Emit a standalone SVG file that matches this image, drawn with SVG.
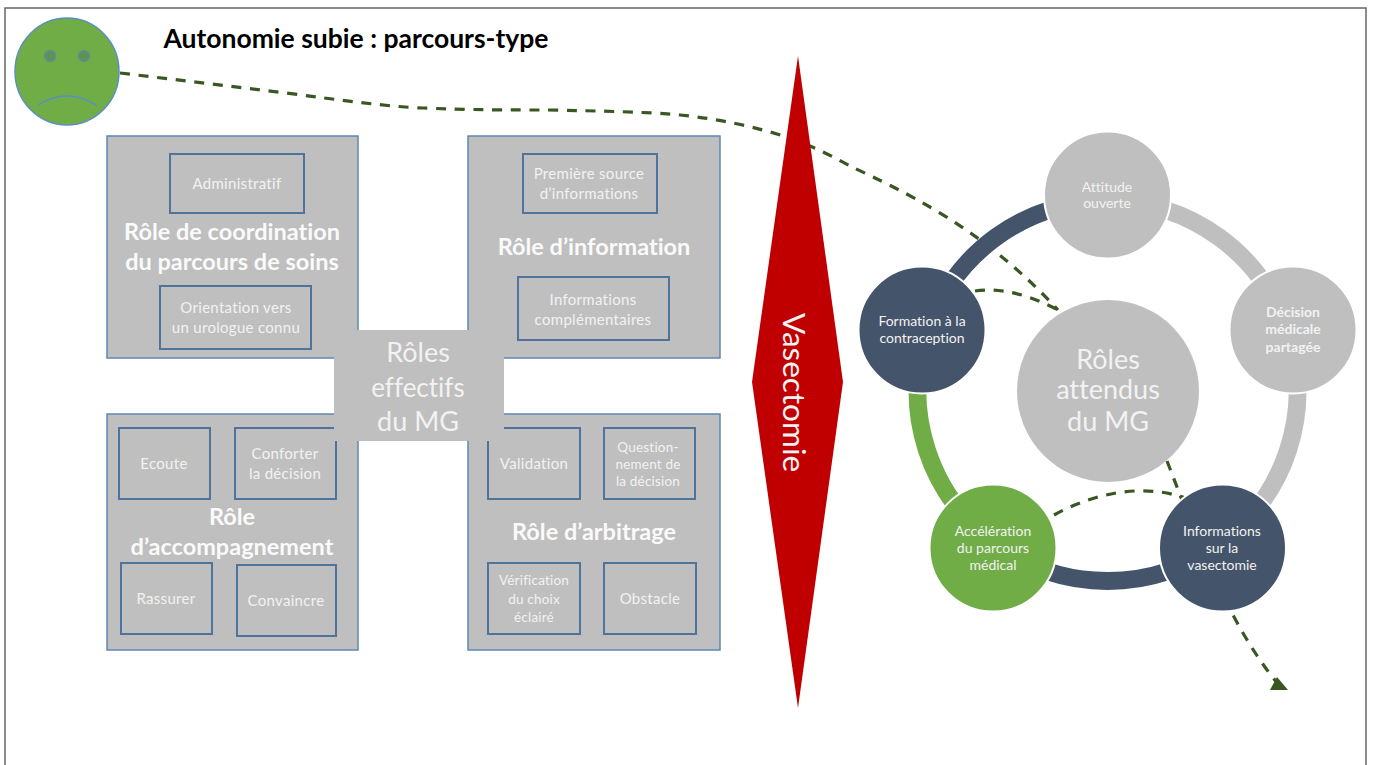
<svg xmlns="http://www.w3.org/2000/svg" width="1376" height="765" viewBox="0 0 1376 765">
<style>
text{font-family:Lato,"Carlito","Open Sans",sans-serif;text-anchor:middle;fill:#f2f2f2;font-variant-ligatures:none}
.panel{fill:#bfbfbf;stroke:#5f88b3;stroke-width:1.5}
.box{fill:#bfbfbf;stroke:#4f739c;stroke-width:2}
.s{font-size:15px;letter-spacing:.3px}
.xs{font-size:13.5px;letter-spacing:.2px}
.h{font-size:23.5px;font-weight:700;fill:#fafafa}
.big{font-size:27px}
.c{font-size:14px}
.dash{fill:none;stroke:#385723;stroke-width:3.2;stroke-dasharray:10 8.7}
.arc{fill:none;stroke-width:18}
.node{stroke:#fff;stroke-width:2}
</style>
<defs>
<marker id="head" markerUnits="userSpaceOnUse" viewBox="-10 -9 22 17" refX="0" refY="0" markerWidth="22" markerHeight="17" orient="0">
<polygon points="-8,6 10,6 -1,-7" fill="#385723"/>
</marker>
</defs>
<rect x="5" y="8" width="1361" height="790" fill="#fff" stroke="#666" stroke-width="1.5"/>

<g id="connectors">
<path class="dash" d="M120 73L286 93C340 100 390 107 423 108C470 110 510 110 547 110C600 111 650 112 680 115C720 119 755 127 787 137C810 145 830 155 850 166C900 190 980 225 1058 310"/>
<path class="dash" d="M975 291C1000 287 1030 295 1058 310"/>
<path class="dash" d="M1054 515C1090 495 1140 482 1185 498"/>
<path class="dash" marker-end="url(#head)" d="M1167 461C1190 520 1225 620 1278 684"/>
</g>

<g id="smiley">
<ellipse cx="67" cy="71.500" rx="52" ry="53.500" fill="#70ad47" stroke="#5b8fc0" stroke-width="1.5"/>
<circle cx="50" cy="56" r="5.500" fill="#5f9055" stroke="#5f8f90" stroke-width="1.5"/>
<circle cx="84" cy="56" r="5.500" fill="#5f9055" stroke="#5f8f90" stroke-width="1.5"/>
<path d="M38 105Q67 87 96 105" fill="none" stroke="#5b8fc0" stroke-width="1.5"/>
</g>
<text id="title" x="356" y="48" style="fill:#000;font-size:26.500px;font-weight:700">Autonomie subie : parcours-type</text>

<g id="role-coordination">
<rect class="panel" x="107" y="136" width="251" height="222"/>
<rect class="box" x="170" y="154" width="134" height="59"/>
<text class="s" x="237" y="189">Administratif</text>
<text class="h" x="232" y="240">Rôle de coordination</text>
<text class="h" x="232" y="270">du parcours de soins</text>
<rect class="box" x="160" y="286" width="151" height="63"/>
<text class="s" x="236" y="313">Orientation vers</text>
<text class="s" x="236" y="333">un urologue connu</text>
</g>
<g id="role-information">
<rect class="panel" x="468" y="136" width="252" height="222"/>
<rect class="box" x="523" y="154" width="134" height="59"/>
<text class="s" x="589" y="179">Première source</text>
<text class="s" x="589" y="199">d’informations</text>
<text class="h" x="594" y="255">Rôle d’information</text>
<rect class="box" x="518" y="277" width="151" height="63"/>
<text class="s" x="593" y="305">Informations</text>
<text class="s" x="593" y="325">complémentaires</text>
</g>
<g id="role-accompagnement">
<rect class="panel" x="107" y="414" width="251" height="236"/>
<rect class="box" x="119" y="428" width="91" height="71"/>
<text class="s" x="164" y="469">Ecoute</text>
<rect class="box" x="235" y="428" width="101" height="71"/>
<text class="s" x="285" y="459">Conforter</text>
<text class="s" x="285" y="479">la décision</text>
<text class="h" x="232" y="525">Rôle</text>
<text class="h" x="232" y="555">d’accompagnement</text>
<rect class="box" x="121" y="563" width="91" height="71"/>
<text class="s" x="166" y="604">Rassurer</text>
<rect class="box" x="237" y="565" width="99" height="71"/>
<text class="s" x="286" y="606">Convaincre</text>
</g>
<g id="role-arbitrage">
<rect class="panel" x="468" y="414" width="252" height="236"/>
<rect class="box" x="488" y="428" width="92" height="71"/>
<text class="s" x="534" y="469">Validation</text>
<rect class="box" x="604" y="428" width="91" height="71"/>
<text class="xs" x="648" y="452">Question-</text>
<text class="xs" x="648" y="469">nement de</text>
<text class="xs" x="648" y="486">la décision</text>
<text class="h" x="594" y="540">Rôle d’arbitrage</text>
<rect class="box" x="488" y="563" width="92" height="71"/>
<text class="xs" x="534" y="585">Vérification</text>
<text class="xs" x="534" y="604">du choix</text>
<text class="xs" x="534" y="622">éclairé</text>
<rect class="box" x="604" y="563" width="92" height="71"/>
<text class="s" x="650" y="604">Obstacle</text>
</g>
<g id="roles-effectifs">
<rect x="334" y="330" width="170" height="111" fill="#bfbfbf"/>
<text class="big" x="418" y="362">Rôles</text>
<text class="big" x="418" y="397" style="font-size:26px">effectifs</text>
<text class="big" x="418" y="431">du MG</text>
</g>
<g id="vasectomie">
<polygon points="798,56 843,382 798,708 752,382" fill="#c00000"/>
<text transform="translate(783 392.500) rotate(90)" style="font-size:31.500px">Vasectomie</text>
</g>
<g id="ring">
<path class="arc" stroke="#44546a" d="M926.8 332.3A190 190 0 0 1 1107.5 201"/>
<path class="arc" stroke="#bfbfbf" d="M1107.5 201A190 190 0 0 1 1288.2 332.3"/>
<path class="arc" stroke="#bfbfbf" d="M1288.2 332.3A190 190 0 0 1 1219.2 544.7"/>
<path class="arc" stroke="#44546a" d="M1219.2 544.7A190 190 0 0 1 995.8 544.7"/>
<path class="arc" stroke="#70ad47" d="M995.8 544.7A190 190 0 0 1 926.8 332.3"/>
</g>
<g id="roles-attendus">
<circle cx="1108" cy="391" r="91" fill="#bfbfbf"/>
<text class="big" x="1108" y="369">Rôles</text>
<text class="big" x="1108" y="399">attendus</text>
<text class="big" x="1108" y="431">du MG</text>
</g>
<g id="attitude">
<circle class="node" cx="1107.500" cy="195" r="63.500" fill="#bfbfbf"/>
<text class="c" x="1107" y="192">Attitude</text>
<text class="c" x="1107" y="208">ouverte</text>
</g>
<g id="decision">
<circle class="node" cx="1293" cy="330" r="63.500" fill="#bfbfbf"/>
<text class="c" x="1293" y="317" font-weight="700">Décision</text>
<text class="c" x="1293" y="334" font-weight="700">médicale</text>
<text class="c" x="1293" y="352" font-weight="700">partagée</text>
</g>
<g id="informations">
<circle class="node" cx="1222.500" cy="548" r="63.500" fill="#44546a"/>
<text class="c" x="1222" y="536">Informations</text>
<text class="c" x="1222" y="553">sur la</text>
<text class="c" x="1222" y="570">vasectomie</text>
</g>
<g id="acceleration">
<circle class="node" cx="993" cy="548" r="63.500" fill="#70ad47"/>
<text class="c" x="993" y="536">Accélération</text>
<text class="c" x="993" y="553">du parcours</text>
<text class="c" x="993" y="570">médical</text>
</g>
<g id="formation">
<circle class="node" cx="922" cy="330" r="63.500" fill="#44546a"/>
<text class="c" x="922" y="326">Formation à la</text>
<text class="c" x="922" y="343">contraception</text>
</g>
</svg>
